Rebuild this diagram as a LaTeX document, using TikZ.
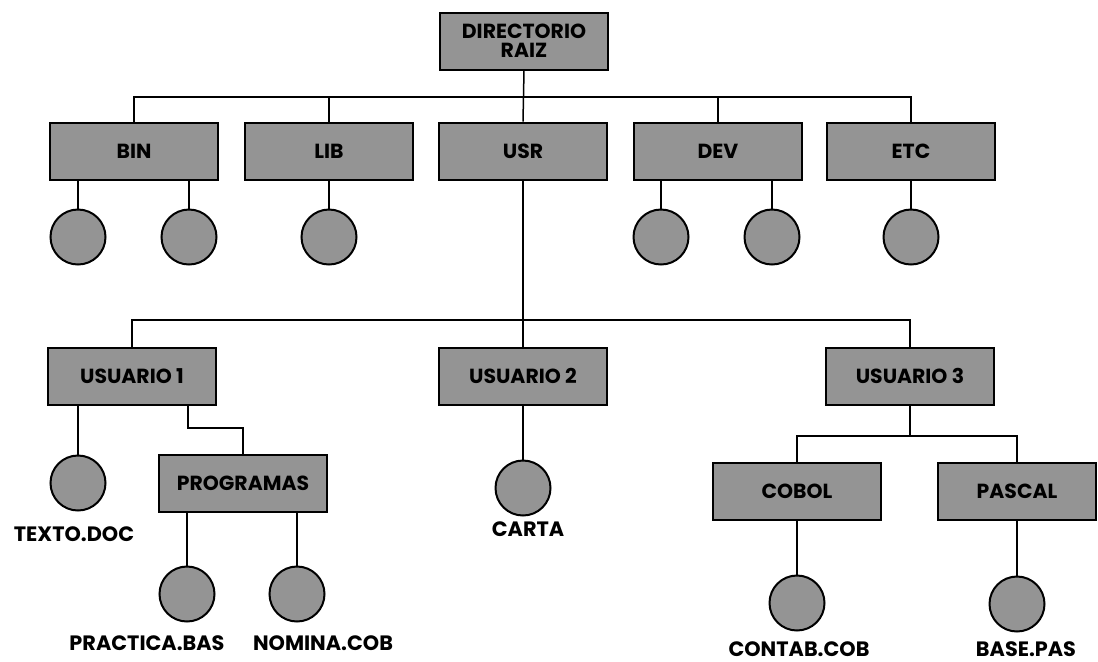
\documentclass[tikz,border=0pt]{standalone}
\usepackage{fontspec}
\setmainfont{Poppins}
\usetikzlibrary{positioning,calc}
\definecolor{dirgray}{gray}{0.58}
\tikzset{
  conn/.style={draw=black,line width=0.75pt},
  dirbox/.style={draw=black,line width=1pt,fill=dirgray,align=center,
                 minimum width=84pt,minimum height=28.5pt,inner sep=2pt,
                 font=\bfseries\fontsize{10.2}{11.5}\selectfont},
  filenode/.style={circle,draw=black,line width=1pt,fill=dirgray,
                   minimum size=27.5pt,inner sep=0pt},
  fname/.style={inner sep=1pt,font=\bfseries\fontsize{10.4}{12}\selectfont}
}
\begin{document}
\begin{tikzpicture}[x=0.5pt,y=-0.5pt]
\useasboundingbox (0,0) rectangle (1098,661);

% nivel raiz
\node[dirbox] (root) at (524,41) {DIRECTORIO\\[-2pt]RAIZ};
\coordinate (rail1) at (0,97);

\node[dirbox] (bin) at (134,151) {BIN};
\node[dirbox] (lib) at (329,151) {LIB};
\node[dirbox] (usr) at (523,151) {USR};
\node[dirbox] (dev) at (718,151) {DEV};
\node[dirbox] (etc) at (911,151) {ETC};

\draw[conn] (root.south) -- (usr.north);
\draw[conn] (bin.north) |- (etc.north |- rail1) -- (etc.north);
\foreach \d in {lib,dev}
  \draw[conn] (\d.north) -- (\d.north |- rail1);

% ficheros de primer nivel
\node[filenode] (bin1) at (78,237) {};
\node[filenode] (bin2) at (189,237) {};
\node[filenode] (lib1) at (329,237) {};
\node[filenode] (dev1) at (661,237) {};
\node[filenode] (dev2) at (772,237) {};
\node[filenode] (etc1) at (911,237) {};

\draw[conn] (bin1.north) -- (bin1.north |- bin.south);
\draw[conn] (bin2.north) -- (bin2.north |- bin.south);
\draw[conn] (lib1.north) -- (lib.south);
\draw[conn] (dev1.north) -- (dev1.north |- dev.south);
\draw[conn] (dev2.north) -- (dev2.north |- dev.south);
\draw[conn] (etc1.north) -- (etc.south);

% usuarios
\coordinate (rail2) at (0,320);
\node[dirbox] (us1) at (132,376) {USUARIO 1};
\node[dirbox] (us2) at (523,376) {USUARIO 2};
\node[dirbox] (us3) at (910,376) {USUARIO 3};

\draw[conn] (usr.south) -- (us2.north);
\draw[conn] (us1.north) |- (us3.north |- rail2) -- (us3.north);

% usuario 1
\node[filenode] (txt) at (78,483) {};
\node[fname] (txtl) at (74,534) {TEXTO.DOC};
\draw[conn] (txt.north) -- (txt.north |- us1.south);

\node[dirbox] (prog) at (243,483) {PROGRAMAS};
\coordinate (pk) at (188,428);
\draw[conn] (us1.south -| pk) -- (pk) -| (prog.north);

\node[filenode] (prac) at (187,594) {};
\node[filenode] (nom) at (297,594) {};
\node[fname] (pracl) at (147,643) {PRACTICA.BAS};
\node[fname] (noml) at (323,643) {NOMINA.COB};
\draw[conn] (prac.north) -- (prac.north |- prog.south);
\draw[conn] (nom.north) -- (nom.north |- prog.south);

% usuario 2
\node[filenode] (carta) at (523,488) {};
\node[fname] (cartal) at (528,529) {CARTA};
\draw[conn] (carta.north) -- (us2.south);

% usuario 3
\coordinate (sk) at (0,436);
\node[dirbox] (cob) at (797,491) {COBOL};
\node[dirbox, minimum width=79pt] (pas) at (1017,491) {PASCAL};
\draw[conn] (us3.south) -- (us3.south |- sk);
\draw[conn] (cob.north) |- (pas.north |- sk) -- (pas.north);

\node[filenode] (cont) at (797,603) {};
\node[filenode] (base) at (1017,604) {};
\node[fname] (contl) at (799,649) {CONTAB.COB};
\node[fname] (basel) at (1026,649) {BASE.PAS};
\draw[conn] (cont.north) -- (cob.south);
\draw[conn] (base.north) -- (pas.south);
\end{tikzpicture}
\end{document}
